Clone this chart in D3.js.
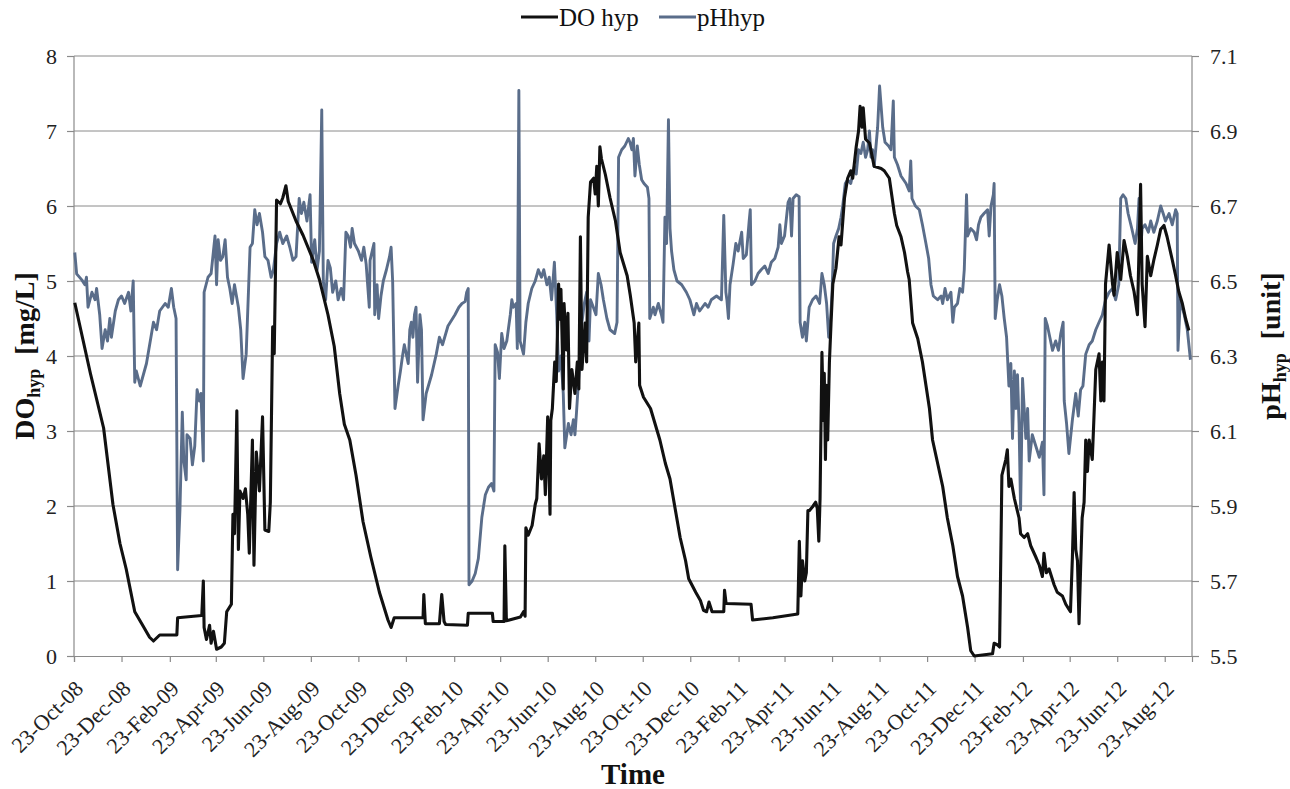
<!DOCTYPE html>
<html>
<head>
<meta charset="utf-8">
<script src="https://cdn.jsdelivr.net/npm/d3@7"></script>
<style>
  body { margin: 0; background: #fff; }
  svg, svg text { font-family: "Liberation Serif", "Times New Roman", serif !important; }
</style>
</head>
<body>
<div id="chart"></div>
<script>
// days counted from the first sample (23-Oct-2008)
const startDate = new Date(2008, 9, 23);
const endDate = new Date(2012, 8, 27);

const tickLabels = ["23-Oct-08", "23-Dec-08", "23-Feb-09", "23-Apr-09", "23-Jun-09", "23-Aug-09",
  "23-Oct-09", "23-Dec-09", "23-Feb-10", "23-Apr-10", "23-Jun-10", "23-Aug-10",
  "23-Oct-10", "23-Dec-10", "23-Feb-11", "23-Apr-11", "23-Jun-11", "23-Aug-11",
  "23-Oct-11", "23-Dec-11", "23-Feb-12", "23-Apr-12", "23-Jun-12", "23-Aug-12"];

const doTicks = [0, 1, 2, 3, 4, 5, 6, 7, 8];
const phTicks = [5.5, 5.7, 5.9, 6.1, 6.3, 6.5, 6.7, 6.9, 7.1];

// DO hyp [day, mg/L]
const doHyp = [
  [1,4.71],[21,3.77],[38,3.04],[50,2.02],[59,1.50],[67,1.16],[78,0.59],[87,0.43],[97,0.25],[102,0.20],
  [110,0.28],[132,0.28],[133,0.51],[164,0.54],[166,1.0],[167,0.38],[170,0.22],[174,0.41],[176,0.17],[179,0.33],
  [183,0.09],[189,0.12],[193,0.17],[196,0.59],[202,0.69],[204,1.89],[206,1.63],[209,3.27],[211,1.42],[213,2.20],
  [217,2.10],[220,2.23],[223,1.89],[225,1.37],[229,2.88],[231,1.21],[234,2.72],[238,2.20],[242,3.19],[245,1.68],
  [250,1.66],[252,2.05],[255,4.39],[257,4.03],[260,6.08],[265,6.03],[268,6.11],[272,6.27],[275,6.06],[285,5.80],
  [294,5.61],[307,5.28],[315,5.02],[326,4.55],[334,4.13],[341,3.50],[347,3.09],[354,2.88],[362,2.41],[371,1.79],
  [381,1.32],[392,0.85],[403,0.48],[407,0.38],[411,0.51],[448,0.51],[449,0.82],[451,0.43],[469,0.43],[472,0.82],
  [475,0.46],[477,0.42],[505,0.41],[506,0.57],[537,0.57],[538,0.46],[552,0.46],[553,1.47],[555,0.47],[573,0.52],
  [577,0.59],[579,0.53],[580,1.71],[583,1.61],[588,1.74],[592,2.02],[594,2.10],[597,2.83],[600,2.36],[603,2.67],
  [605,2.15],[608,3.19],[611,1.89],[612,3.14],[614,3.30],[617,3.92],[619,3.66],[622,4.96],[624,4.49],[625,4.89],
  [628,3.56],[629,4.70],[632,4.08],[634,4.57],[636,3.30],[639,3.82],[643,3.50],[646,3.92],[648,3.56],[650,5.59],
  [652,3.82],[654,4.13],[656,4.44],[658,3.92],[660,5.85],[663,6.32],[667,6.37],[669,6.16],[671,6.53],[673,6.0],
  [675,6.79],[677,6.63],[682,6.42],[688,6.11],[695,5.80],[701,5.38],[710,5.07],[714,4.81],[719,4.44],[721,3.92],
  [725,4.44],[726,3.61],[731,3.45],[740,3.30],[746,3.09],[752,2.88],[759,2.57],[765,2.36],[772,1.94],[778,1.58],
  [785,1.27],[789,1.03],[793,0.95],[798,0.85],[804,0.74],[808,0.61],[812,0.59],[815,0.72],[819,0.59],[834,0.59],
  [835,0.875],[837,0.70],[869,0.69],[871,0.48],[897,0.51],[929,0.56],[931,1.53],[933,0.80],[935,1.27],[938,1.0],
  [940,1.11],[942,1.94],[944,1.94],[948,1.99],[952,2.05],[954,1.97],[956,1.53],[957.6,2.10],[960,4.05],[962,3.14],
  [963,3.77],[964.5,2.62],[966,3.61],[967.4,2.88],[969.6,3.92],[971.7,4.44],[974,4.96],[978,5.17],[982,5.59],[984.5,5.48],
  [989,6.11],[993,6.37],[997,6.47],[999.5,6.37],[1004,6.79],[1007,7.0],[1009,7.33],[1011.5,7.05],[1013,7.31],[1016,6.89],
  [1021,6.84],[1027,6.53],[1036,6.5],[1040,6.47],[1046.5,6.37],[1053,5.90],[1056,5.74],[1061.5,5.59],[1066,5.38],[1070,5.12],
  [1072,5.02],[1076.4,4.44],[1083,4.23],[1089,3.92],[1093.5,3.61],[1098,3.30],[1102,2.88],[1108.5,2.57],[1115,2.26],[1121,1.84],
  [1128,1.47],[1134,1.06],[1140.5,0.80],[1147,0.38],[1151,0.07],[1155.5,0.0],[1179,0.03],[1181,0.17],[1185,0.15],[1188,0.12],
  [1191,2.41],[1196,2.62],[1198,2.75],[1200,2.26],[1202.5,2.36],[1207,2.10],[1213,1.84],[1215,1.63],[1219.6,1.58],[1224,1.63],
  [1228,1.47],[1234.5,1.32],[1239,1.21],[1243,1.06],[1245,1.37],[1248,1.11],[1251.6,1.16],[1258,0.95],[1262,0.85],[1268.7,0.80],
  [1273,0.69],[1279,0.59],[1281.5,1.32],[1283.7,2.18],[1285.8,1.42],[1288,1.27],[1290,0.43],[1292,1.16],[1294,1.84],[1296.5,2.05],
  [1298.6,2.88],[1300.8,2.46],[1303,2.88],[1307,2.62],[1309,3.14],[1311.5,3.82],[1315.7,4.03],[1318,3.40],[1320,3.92],[1322,3.40],
  [1324,4.96],[1328.6,5.48],[1333,4.96],[1335,4.81],[1339,5.38],[1343.5,5.02],[1347.8,5.54],[1352,5.33],[1356,5.07],[1360.6,4.86],
  [1365,4.55],[1369,6.29],[1371,4.96],[1374.7,4.39],[1377.7,5.33],[1382,5.07],[1386,5.28],[1390.5,5.48],[1394.8,5.69],[1399,5.74],
  [1403,5.59],[1409.7,5.28],[1414,5.07],[1418,4.86],[1422.6,4.70],[1427,4.49],[1431,4.34]
];

// pH hyp [day, unit]
const phHyp = [
  [1,6.576],[3.4,6.519],[10,6.503],[14,6.49],[16,6.51],[18,6.43],[23,6.47],[27,6.45],[29,6.48],[33,6.41],
  [36,6.32],[40,6.37],[43,6.34],[46,6.40],[48,6.35],[53,6.42],[57,6.45],[61,6.46],[65,6.44],[70,6.47],
  [73,6.42],[76,6.50],[78,6.23],[80,6.26],[85,6.22],[93,6.28],[102,6.39],[106,6.37],[110,6.42],[117,6.44],
  [121,6.43],[125,6.48],[128,6.43],[131,6.40],[133,5.73],[136,5.89],[139,6.15],[141,6.02],[144,5.97],[145,6.09],
  [149,6.08],[152,6.01],[155,6.06],[158,6.21],[161,6.18],[163,6.20],[166,6.02],[167,6.47],[172,6.51],[176,6.52],
  [181,6.62],[183,6.49],[185,6.61],[188,6.555],[191,6.565],[194,6.61],[197,6.51],[200,6.48],[203,6.44],[206,6.49],
  [211,6.43],[214,6.37],[217,6.24],[221,6.305],[226,6.59],[229,6.60],[232,6.69],[235,6.65],[238,6.68],[242,6.63],
  [245,6.565],[249,6.555],[253,6.51],[256,6.53],[260,6.60],[264,6.63],[268,6.60],[273,6.62],[277,6.59],[281,6.555],
  [285,6.565],[289,6.72],[292,6.68],[295,6.71],[299,6.66],[303,6.73],[305,6.55],[309,6.61],[312,6.53],[315,6.58],
  [318,6.956],[320,6.50],[323,6.45],[326,6.555],[329,6.535],[332,6.47],[336,6.50],[339,6.45],[343,6.48],[346,6.45],
  [349,6.63],[352,6.62],[355,6.59],[357,6.64],[360,6.60],[365,6.58],[369,6.555],[372,6.59],[375,6.545],[379,6.43],
  [380,6.555],[385,6.60],[386,6.41],[389,6.49],[391,6.40],[394,6.46],[397,6.50],[401,6.53],[405,6.565],[407,6.59],
  [409,6.50],[412,6.16],[416,6.22],[419,6.26],[422,6.305],[424,6.33],[429,6.28],[431,6.37],[433,6.39],[435,6.35],
  [437,6.41],[439,6.43],[441,6.23],[444,6.41],[446,6.37],[448,6.13],[452,6.20],[459,6.25],[465,6.305],[469,6.35],
  [473,6.33],[480,6.38],[489,6.41],[494,6.43],[498,6.44],[502,6.445],[504,6.47],[506,6.48],[507,5.69],[511,5.70],
  [515,5.72],[519,5.76],[523.5,5.87],[528,5.93],[532,5.95],[536,5.96],[539,5.94],[540.6,6.33],[543.6,6.31],[546,6.24],
  [549,6.36],[552,6.32],[555.5,6.34],[560,6.41],[562,6.45],[564,6.43],[567.5,6.44],[569,6.32],[571,7.008],[572.6,6.34],
  [577,6.305],[580,6.39],[583,6.44],[587.6,6.48],[592,6.50],[596,6.53],[600,6.51],[603,6.53],[607,6.49],[610,6.51],
  [613,6.45],[616.6,6.55],[619.6,6.41],[622,6.26],[625,6.30],[628,6.20],[630,6.055],[634.6,6.12],[638,6.09],[641,6.13],
  [643,6.09],[645,6.15],[649,6.28],[652,6.39],[655,6.44],[658,6.47],[661,6.34],[663,6.45],[666.6,6.43],[670,6.41],
  [673,6.52],[676.5,6.49],[679.5,6.45],[684,6.40],[688,6.37],[694,6.36],[697,6.39],[699,6.83],[703,6.85],[707,6.86],
  [711.5,6.88],[713.6,6.87],[716,6.85],[718,6.88],[720,6.78],[723,6.86],[725.6,6.81],[728.6,6.77],[731.6,6.76],[736,6.75],
  [738,6.72],[739,6.40],[743.6,6.43],[745.7,6.41],[750,6.44],[754,6.41],[756,6.39],[758.5,6.67],[760.6,6.60],[763,6.93],
  [765,6.64],[767,6.58],[770,6.53],[774,6.50],[780,6.49],[786,6.47],[790.5,6.45],[795.7,6.41],[799,6.44],[803,6.42],
  [810,6.44],[814,6.43],[818,6.45],[824.7,6.46],[831,6.45],[834,6.675],[836.7,6.47],[838,6.45],[840,6.40],[842,6.49],
  [846,6.545],[849.5,6.60],[852.5,6.58],[857,6.63],[859,6.56],[863,6.57],[866.6,6.66],[868,6.69],[869.6,6.49],[874,6.50],
  [878,6.52],[882,6.53],[886.7,6.54],[891,6.52],[895,6.55],[899.5,6.56],[903.8,6.59],[906,6.65],[908,6.60],[912,6.62],
  [916.6,6.71],[918.8,6.72],[921,6.62],[923,6.72],[927,6.73],[930.7,6.725],[932,6.39],[935,6.35],[938,6.39],[940,6.34],
  [943.6,6.43],[948,6.45],[952.5,6.46],[957,6.44],[960,6.52],[963,6.49],[966,6.44],[968.7,6.35],[970.4,6.37],[973,6.47],
  [975,6.60],[978,6.62],[981.5,6.64],[984.5,6.67],[986.7,6.70],[990,6.76],[993,6.77],[997,6.76],[1001.6,6.805],[1004,6.785],
  [1007,6.85],[1010,6.84],[1013,6.87],[1016,6.83],[1018.7,6.85],[1021,6.90],[1023,6.83],[1025,6.85],[1027,6.805],[1029,6.85],
  [1031.5,6.91],[1034,7.02],[1038,6.91],[1041,6.87],[1045.6,6.86],[1048.6,6.85],[1051.6,6.98],[1053,6.83],[1057,6.81],[1061.5,6.78],
  [1068,6.76],[1072,6.74],[1074,6.82],[1075.6,6.72],[1080,6.70],[1085,6.69],[1089,6.65],[1093.5,6.60],[1097,6.56],[1100,6.49],
  [1103,6.46],[1108.5,6.45],[1113,6.46],[1115,6.44],[1118,6.48],[1121,6.45],[1125.6,6.47],[1128,6.39],[1130,6.43],[1134,6.44],
  [1137,6.48],[1140.5,6.47],[1142.7,6.53],[1145.6,6.73],[1147,6.62],[1151,6.64],[1155.5,6.63],[1158.5,6.61],[1161,6.65],[1164,6.67],
  [1168,6.68],[1172.6,6.69],[1174.7,6.62],[1177,6.70],[1180,6.73],[1181,6.76],[1182.4,6.40],[1185,6.45],[1188,6.49],[1191,6.46],
  [1194,6.40],[1197,6.35],[1200,6.22],[1202.5,6.28],[1204.6,6.08],[1207,6.26],[1209,6.16],[1211,6.25],[1213,6.12],[1215,5.89],
  [1217.5,6.24],[1219.6,6.16],[1221.7,6.08],[1224,6.16],[1226,6.02],[1230,6.09],[1234.5,6.06],[1239,6.03],[1243,6.07],[1245,5.93],
  [1246.6,6.40],[1249.5,6.38],[1252.5,6.35],[1256,6.315],[1260,6.34],[1263.6,6.315],[1266.6,6.36],[1269.6,6.39],[1271,6.18],[1274,6.12],
  [1277,6.04],[1281.5,6.13],[1285.8,6.20],[1289,6.14],[1292,6.21],[1295,6.22],[1298.6,6.305],[1303,6.33],[1307,6.34],[1311.5,6.37],
  [1315.7,6.39],[1320,6.41],[1324,6.45],[1328.6,6.47],[1333,6.48],[1337,6.45],[1341,6.49],[1343.5,6.72],[1346.5,6.73],[1350,6.72],
  [1353,6.68],[1357.7,6.64],[1362,6.60],[1365,6.64],[1367,6.72],[1369,6.58],[1371,6.64],[1374.7,6.65],[1379,6.63],[1382,6.66],
  [1386,6.63],[1390.5,6.66],[1394.8,6.70],[1398,6.68],[1401,6.66],[1405.5,6.68],[1409.7,6.65],[1414,6.69],[1416,6.68],[1417,6.315],
  [1420,6.45],[1425,6.41],[1429,6.37],[1433,6.29]
];

const width = 1290, height = 789;
const plot = { left: 74, right: 1192, top: 56, bottom: 656 };
const gridColor = "#8a8a8a";
const doColor = "#111111";
const phColor = "#5a6d8a";
const serif = "'Liberation Serif', 'Times New Roman', serif";

const dayToDate = d => new Date(startDate.getTime() + d * 864e5);

const x = d3.scaleTime().domain([startDate, endDate]).range([plot.left, plot.right]);
const yDO = d3.scaleLinear().domain([0, 8]).range([plot.bottom, plot.top]);
const yPH = d3.scaleLinear().domain([5.5, 7.1]).range([plot.bottom, plot.top]);

const tickDates = tickLabels.map(s => d3.timeParse("%d-%b-%y")(s));

const svg = d3.select("#chart")
  .append("svg")
  .attr("width", width)
  .attr("height", height)
  .style("font-family", serif);

svg.append("rect").attr("width", width).attr("height", height).attr("fill", "#fff");

// horizontal gridlines
svg.append("g")
  .selectAll("line")
  .data(doTicks.slice(1))
  .join("line")
  .attr("x1", plot.left)
  .attr("x2", plot.right)
  .attr("y1", d => yDO(d))
  .attr("y2", d => yDO(d))
  .attr("stroke", gridColor)
  .attr("stroke-width", 1);

// axes
const leftAxis = svg.append("g")
  .attr("transform", `translate(${plot.left},0)`)
  .call(d3.axisLeft(yDO).tickValues(doTicks).tickSize(7).tickPadding(10).tickFormat(d3.format("d")));

const rightAxis = svg.append("g")
  .attr("transform", `translate(${plot.right},0)`)
  .call(d3.axisRight(yPH).tickValues(phTicks).tickSize(7).tickPadding(11).tickFormat(d3.format(".1f")));

const bottomAxis = svg.append("g")
  .attr("transform", `translate(0,${plot.bottom})`)
  .call(d3.axisBottom(x).tickValues(tickDates).tickSize(6).tickFormat((d, i) => tickLabels[i]));

for (const ax of [leftAxis, rightAxis, bottomAxis]) {
  ax.attr("font-family", null).style("font-family", serif);
  ax.select(".domain").attr("stroke", gridColor).attr("stroke-width", 1.2);
  ax.selectAll(".tick line").attr("stroke", gridColor).attr("stroke-width", 1.2);
  ax.selectAll(".tick text")
    .attr("fill", "#222")
    .style("font-family", serif)
    .attr("font-size", 22);
}
leftAxis.select(".domain").attr("d", `M0,${plot.top}V${plot.bottom}`);
rightAxis.select(".domain").attr("d", `M0,${plot.top}V${plot.bottom}`);

bottomAxis.selectAll(".tick text")
  .attr("text-anchor", "end")
  .attr("dy", null)
  .attr("y", 0)
  .attr("transform", "translate(10,34) rotate(-45)");

// series
const line = (yScale) => d3.line()
  .x(d => x(dayToDate(d[0])))
  .y(d => yScale(d[1]));

svg.append("path")
  .datum(phHyp)
  .attr("fill", "none")
  .attr("stroke", phColor)
  .attr("stroke-width", 2.9)
  .attr("stroke-linejoin", "round")
  .attr("d", line(yPH));

svg.append("path")
  .datum(doHyp)
  .attr("fill", "none")
  .attr("stroke", doColor)
  .attr("stroke-width", 3.1)
  .attr("stroke-linejoin", "round")
  .attr("d", line(yDO));

// legend
const legendItems = [
  { label: "DO hyp", color: doColor, x: 521 },
  { label: "pHhyp", color: phColor, x: 659 }
];
const legend = svg.append("g").attr("font-size", 25).attr("fill", "#111");
legendItems.forEach(it => {
  legend.append("line")
    .attr("x1", it.x).attr("x2", it.x + 37)
    .attr("y1", 17).attr("y2", 17)
    .attr("stroke", it.color).attr("stroke-width", 3);
  legend.append("text")
    .attr("x", it.x + 38).attr("y", 26)
    .style("font-family", serif)
    .text(it.label);
});

// axis titles
const leftTitle = svg.append("text")
  .attr("transform", "translate(34,356) rotate(-90)")
  .attr("text-anchor", "middle")
  .attr("font-weight", "bold")
  .attr("font-size", 28)
  .attr("fill", "#111")
  .style("font-family", serif);
leftTitle.append("tspan").text("DO");
leftTitle.append("tspan").attr("font-size", 18).attr("dy", 6).text("hyp");
leftTitle.append("tspan").attr("dy", -6).text("\u00a0\u00a0[mg/L]");

const rightTitle = svg.append("text")
  .attr("transform", "translate(1280,346) rotate(-90)")
  .attr("text-anchor", "middle")
  .attr("font-weight", "bold")
  .attr("font-size", 28)
  .attr("fill", "#111")
  .style("font-family", serif);
rightTitle.append("tspan").text("pH");
rightTitle.append("tspan").attr("font-size", 18).attr("dy", 6).text("hyp");
rightTitle.append("tspan").attr("dy", -6).text("\u00a0\u00a0[unit]");

svg.append("text")
  .attr("x", 633)
  .attr("y", 784)
  .attr("text-anchor", "middle")
  .attr("font-weight", "bold")
  .attr("font-size", 29)
  .attr("fill", "#111")
  .style("font-family", serif)
  .text("Time");
</script>
</body>
</html>
